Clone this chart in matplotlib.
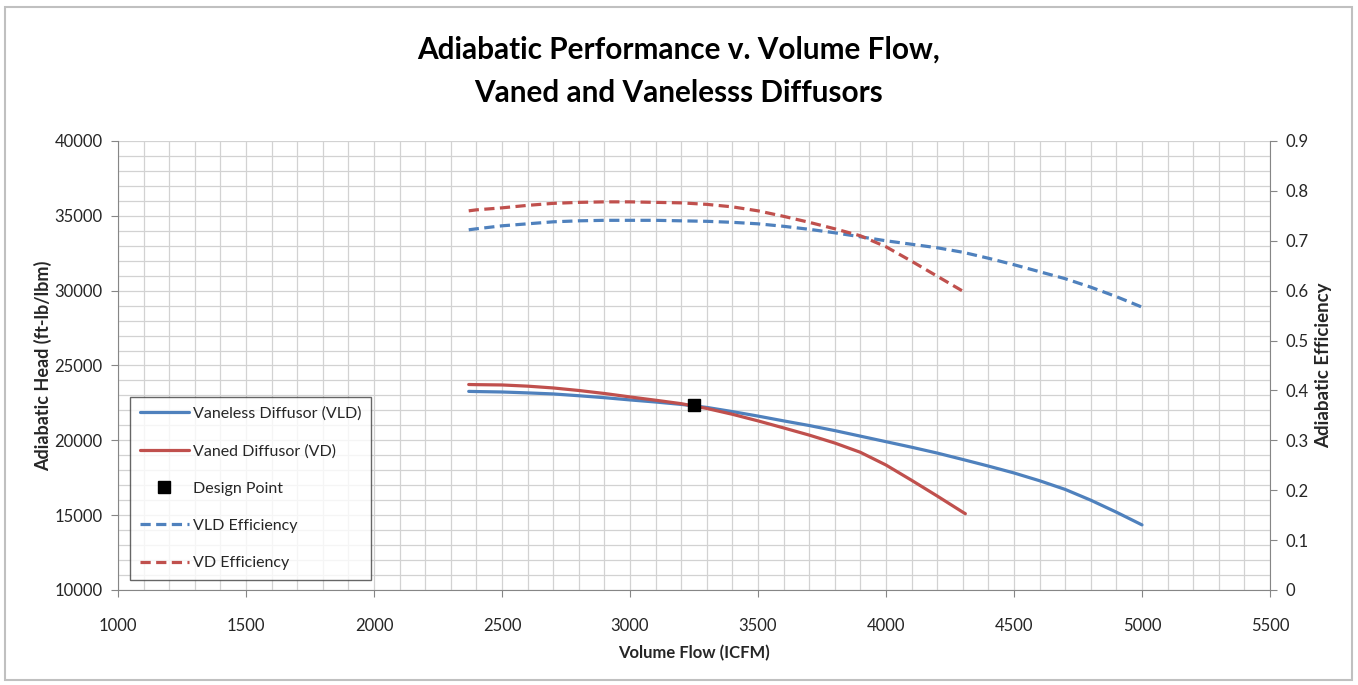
import matplotlib
matplotlib.use('Agg')
import matplotlib.pyplot as plt
from matplotlib.ticker import MultipleLocator, FuncFormatter
from matplotlib.patches import Rectangle

plt.rcParams['font.family'] = ['Lato', 'DejaVu Sans']

# ---------------- data ----------------
x_vld = [2370, 2400, 2500, 2600, 2700, 2800, 2900, 3000, 3100, 3200, 3300, 3400,
         3500, 3600, 3700, 3800, 3900, 4000, 4100, 4200, 4300, 4400, 4500, 4600,
         4700, 4800, 4900, 5000]
head_vld = [23270, 23260, 23230, 23170, 23100, 22980, 22850, 22700, 22560, 22400,
            22200, 21920, 21620, 21300, 20990, 20650, 20280, 19910, 19540, 19150,
            18720, 18280, 17820, 17300, 16720, 16000, 15200, 14350]
eff_vld = [0.722, 0.724, 0.730, 0.734, 0.738, 0.740, 0.741, 0.741, 0.741, 0.740,
           0.739, 0.737, 0.734, 0.729, 0.723, 0.716, 0.708, 0.700, 0.693, 0.686,
           0.677, 0.665, 0.652, 0.638, 0.624, 0.607, 0.588, 0.567]

x_vd = [2370, 2400, 2500, 2600, 2700, 2800, 2900, 3000, 3100, 3200, 3300, 3400,
        3500, 3600, 3700, 3800, 3900, 4000, 4100, 4200, 4300, 4310]
head_vd = [23730, 23720, 23700, 23620, 23500, 23330, 23130, 22900, 22680, 22450,
           22130, 21740, 21300, 20830, 20350, 19820, 19200, 18350, 17330, 16280,
           15200, 15100]
eff_vd = [0.760, 0.762, 0.766, 0.771, 0.775, 0.777, 0.778, 0.778, 0.777, 0.776,
          0.773, 0.768, 0.760, 0.749, 0.737, 0.724, 0.710, 0.688, 0.659, 0.629,
          0.599, 0.596]

design_x = [3250]
design_head = [22350]

labels = ['Vaneless Diffusor (VLD)', 'Vaned Diffusor (VD)', 'Design Point',
          'VLD Efficiency', 'VD Efficiency']

BLUE = '#4F81BD'
RED = '#C0504D'
AXC = '#868686'
TXT = '#262626'

W, H = 1358, 685
fig = plt.figure(figsize=(W / 100, H / 100), dpi=100)
fig.patch.set_facecolor('white')
fig.patches.append(Rectangle((5 / W, 5 / H), 1347 / W, 673 / H, transform=fig.transFigure,
                             fill=False, edgecolor='#c0c0c0', lw=1.5))

ax = fig.add_axes([118 / W, 1 - 590 / H, 1152 / W, 449 / H])
ax.set_xlim(1000, 5500)
ax.set_ylim(10000, 40000)
ax.xaxis.set_major_locator(MultipleLocator(500))
ax.xaxis.set_minor_locator(MultipleLocator(100))
ax.yaxis.set_major_locator(MultipleLocator(5000))
ax.yaxis.set_minor_locator(MultipleLocator(1000))
ax.grid(which='both', color='#d2d2d2', lw=0.9)
ax.set_axisbelow(True)
ax.yaxis.set_major_formatter(FuncFormatter(lambda v, p: f'{int(round(v))}'))
ax.xaxis.set_major_formatter(FuncFormatter(lambda v, p: f'{int(round(v))}'))

for s in ['left', 'bottom']:
    ax.spines[s].set_color(AXC)
for s in ['top', 'right']:
    ax.spines[s].set_visible(False)
ax.tick_params(which='major', direction='out', length=5, color=AXC, labelsize=12,
               labelcolor=TXT, pad=6)
ax.tick_params(axis='x', which='major', pad=15)
ax.tick_params(which='minor', length=0)

l1, = ax.plot(x_vld, head_vld, color=BLUE, lw=2.3, solid_capstyle='round')
l2, = ax.plot(x_vd, head_vd, color=RED, lw=2.3, solid_capstyle='round')
l3, = ax.plot(design_x, design_head, ls='none', marker='s', ms=8, color='black', zorder=5)

ax.set_xlabel('Volume Flow (ICFM)', fontsize=12, fontweight='bold', color=TXT, labelpad=8)
ax.set_ylabel('Adiabatic Head (ft-lb/lbm)', fontsize=13, fontweight='bold', color=TXT,
              labelpad=2)

ax2 = ax.twinx()
ax2.set_ylim(0, 0.9)
ax2.yaxis.set_major_locator(MultipleLocator(0.1))
ax2.yaxis.set_major_formatter(FuncFormatter(lambda v, p: f'{v:g}' if abs(v) > 1e-9 else '0'))
for s in ['left', 'bottom', 'top']:
    ax2.spines[s].set_visible(False)
ax2.spines['right'].set_color(AXC)
ax2.tick_params(which='major', direction='out', length=5, color=AXC, labelsize=12,
                labelcolor=TXT, pad=6)
l4, = ax2.plot(x_vld, eff_vld, color=BLUE, lw=2.3, dashes=(3.2, 1.7))
l5, = ax2.plot(x_vd, eff_vd, color=RED, lw=2.3, dashes=(3.2, 1.7))
ax2.set_ylabel('Adiabatic Efficiency', fontsize=13.5, fontweight='bold', color=TXT, labelpad=5)

leg = ax2.legend([l1, l2, l3, l4, l5], labels, loc='lower left',
                 bbox_to_anchor=(12 / 1152, 10 / 449), frameon=True, fancybox=False,
                 edgecolor='#404040', fontsize=11.5, handlelength=3.1, labelspacing=1.45,
                 borderpad=0.6, handletextpad=0.25, borderaxespad=0)
leg.get_frame().set_linewidth(1.0)
for t in leg.get_texts():
    t.set_color(TXT)

fig.text(0.5, 1 - 50 / H, 'Adiabatic Performance v. Volume Flow,', ha='center', va='center',
         fontsize=21.4, fontweight='bold', color='black')
fig.text(0.5, 1 - 93 / H, 'Vaned and Vanelesss Diffusors', ha='center', va='center',
         fontsize=21.4, fontweight='bold', color='black')

fig.savefig('out.png', dpi=100)
